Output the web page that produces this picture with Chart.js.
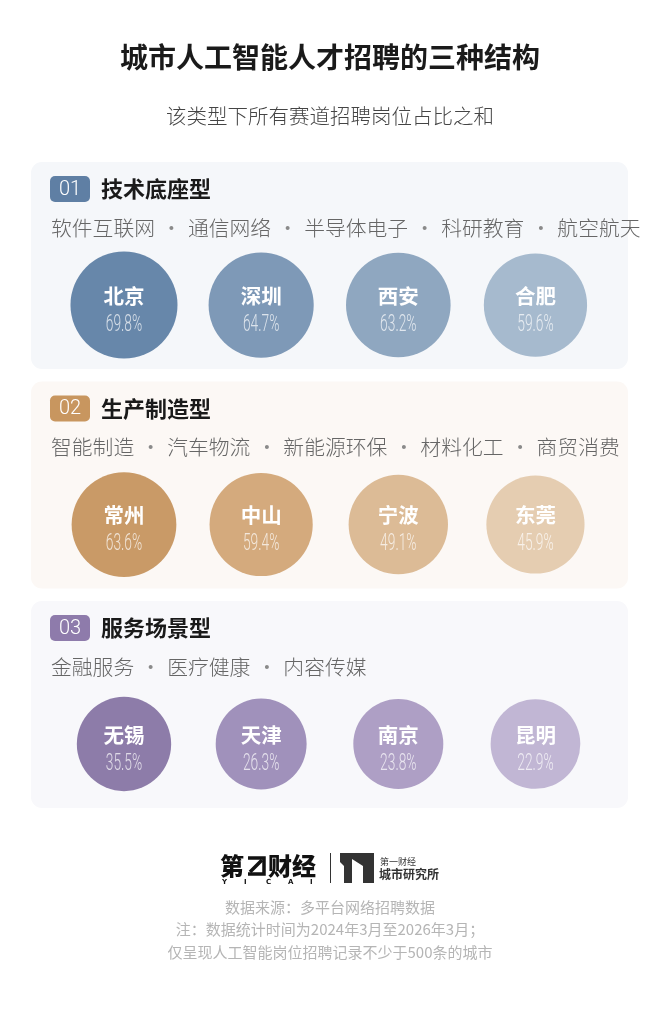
<!DOCTYPE html>
<html lang="zh-CN">
<head>
<meta charset="utf-8">
<title>城市人工智能人才招聘的三种结构</title>
<script src="https://cdn.jsdelivr.net/npm/chart.js@4.4.1/dist/chart.umd.min.js"></script>
<style>
  html,body{margin:0;padding:0;background:#fff;}
  #wrap{width:660px;height:1010px;}
</style>
</head>
<body>
<div id="wrap"><canvas id="chart" width="660" height="1010"></canvas></div>
<script>
/* 城市人工智能人才招聘：三种结构，每种 4 个城市，气泡大小随占比略变 */

const TITLE    = "城市人工智能人才招聘的三种结构";
const SUBTITLE = "该类型下所有赛道招聘岗位占比之和";

const TYPE_NO    = ["01", "02", "03"];
const TYPE_NAMES = ["技术底座型", "生产制造型", "服务场景型"];
const TRACKS = [
  ["软件互联网", "通信网络", "半导体电子", "科研教育", "航空航天"],
  ["智能制造", "汽车物流", "新能源环保", "材料化工", "商贸消费"],
  ["金融服务", "医疗健康", "内容传媒"]
];
const CITIES = [
  ["北京", "深圳", "西安", "合肥"],
  ["常州", "中山", "宁波", "东莞"],
  ["无锡", "天津", "南京", "昆明"]
];
const SHARES = [
  [69.8, 64.7, 63.2, 59.6],
  [63.6, 59.4, 49.1, 45.9],
  [35.5, 26.3, 23.8, 22.9]
];
const NOTES = [
  "数据来源：多平台网络招聘数据",
  "注：数据统计时间为2024年3月至2026年3月；",
  "仅呈现人工智能岗位招聘记录不少于500条的城市"
];

// 样式
const CJK = "'Noto Sans CJK SC','Noto Sans',sans-serif";
const PANEL_BG = ["#f5f7fa", "#fcf8f5", "#f8f8fb"];
const BADGE_BG = ["#5f7fa4", "#c8965f", "#8e7bab"];
const BUBBLE_COL = [
  ["#6787aa", "#7e99b7", "#8fa7c0", "#a6bace"],
  ["#c99a67", "#d4aa7d", "#dcbb96", "#e5cdb1"],
  ["#8d7ca9", "#a091bb", "#ae9fc5", "#c1b6d4"]
];

function roundRect(ctx, x, y, w, h, r){
  ctx.beginPath();
  ctx.moveTo(x+r, y);
  ctx.arcTo(x+w, y, x+w, y+h, r);
  ctx.arcTo(x+w, y+h, x, y+h, r);
  ctx.arcTo(x, y+h, x, y, r);
  ctx.arcTo(x, y, x+w, y, r);
  ctx.closePath();
}

const decorPlugin = {
  id: "decor",
  beforeDatasetsDraw(chart){
    const { ctx, scales } = chart;
    const ys = scales.y;
    ctx.save();
    ctx.textBaseline = "middle";

    // 标题
    ctx.fillStyle = "#1a1a1a"; ctx.textAlign = "center";
    ctx.font = "bold 28px " + CJK;
    ctx.fillText(TITLE, 330, 57);
    ctx.fillStyle = "#444"; ctx.font = "300 20.5px " + CJK;
    ctx.fillText(SUBTITLE, 330, 116);

    TYPE_NAMES.forEach((name, p) => {
      const cy = ys.getPixelForValue(p);
      // 面板
      ctx.fillStyle = PANEL_BG[p];
      roundRect(ctx, 31, cy-143, 597, 207, 11); ctx.fill();
      // 编号徽章
      ctx.fillStyle = BADGE_BG[p];
      roundRect(ctx, 50, cy-129, 40, 26, 5); ctx.fill();
      ctx.fillStyle = "#fff"; ctx.textAlign = "center";
      ctx.font = "300 20px Roboto,sans-serif";
      ctx.fillText(TYPE_NO[p], 70, cy-115.5);
      // 类型名
      ctx.fillStyle = "#1a1a1a"; ctx.textAlign = "left";
      ctx.font = "bold 22px " + CJK;
      ctx.fillText(name, 101, cy-116);
      // 赛道
      ctx.font = "300 20.8px " + CJK;
      let x = 51;
      TRACKS[p].forEach((t, i) => {
        if(i > 0){
          ctx.fillStyle = "#8a8a8a"; ctx.textAlign = "center";
          ctx.fillText("·", x + 16.5, cy-77);
          x += 33;
        }
        ctx.fillStyle = "#666"; ctx.textAlign = "left";
        ctx.fillText(t, x, cy-77);
        x += ctx.measureText(t).width;
      });
    });

    drawFooter(ctx);
    ctx.restore();
  },
  afterDatasetsDraw(chart){
    const { ctx } = chart;
    ctx.save();
    ctx.textAlign = "center"; ctx.textBaseline = "middle";
    chart.data.datasets.forEach((ds, p) => {
      chart.getDatasetMeta(p).data.forEach((el, i) => {
        ctx.fillStyle = "#fff";
        ctx.font = "bold 20.5px " + CJK;
        ctx.fillText(CITIES[p][i], el.x, el.y - 9);
        // 窄体百分比
        ctx.save();
        ctx.translate(el.x, el.y + 20);
        ctx.scale(0.6, 1);
        ctx.fillStyle = "rgba(255,255,255,0.72)";
        ctx.font = "300 23px Roboto,sans-serif";
        ctx.fillText(SHARES[p][i].toFixed(1) + "%", 0, 0);
        ctx.restore();
      });
    });
    ctx.restore();
  }
};

function drawFooter(ctx){
  ctx.save();
  // 第一财经 logo
  ctx.fillStyle = "#111"; ctx.textAlign = "left"; ctx.textBaseline = "alphabetic";
  ctx.font = "900 24px " + CJK;
  ctx.fillText("第", 220, 875);
  ctx.lineWidth = 3.5; ctx.strokeStyle = "#111";
  ctx.beginPath();
  ctx.moveTo(248, 858); ctx.lineTo(264, 858); ctx.lineTo(264, 874); ctx.lineTo(248, 874);
  ctx.stroke();
  ctx.beginPath(); ctx.moveTo(250, 872); ctx.lineTo(262, 860); ctx.stroke();
  ctx.fillText("财经", 268, 875);
  ctx.font = "bold 7px 'DejaVu Sans',sans-serif";
  ["Y","I","C","A","I"].forEach((c, i) => ctx.fillText(c, 222 + i*22, 884));
  // 分隔线
  ctx.fillStyle = "#333"; ctx.fillRect(330, 853, 1, 30);
  // 研究所标志
  ctx.beginPath();
  ctx.moveTo(340, 853); ctx.lineTo(374, 853); ctx.lineTo(374, 883);
  ctx.lineTo(363, 883); ctx.lineTo(363, 866); ctx.lineTo(352, 859);
  ctx.lineTo(352, 883); ctx.lineTo(344, 883); ctx.lineTo(344, 866);
  ctx.lineTo(340, 862); ctx.closePath(); ctx.fill();
  ctx.font = "9px " + CJK; ctx.fillText("第一财经", 380, 865);
  ctx.font = "bold 12px " + CJK; ctx.fillText("城市研究所", 379, 879);
  // 注释
  ctx.fillStyle = "#b5b5b5"; ctx.textAlign = "center"; ctx.textBaseline = "middle";
  ctx.font = "15px " + CJK;
  NOTES.forEach((n, i) => ctx.fillText(n, 330, 907 + i*22.5));
  ctx.restore();
}

const datasets = CITIES.map((row, p) => ({
  label: TYPE_NAMES[p],
  data: row.map((c, i) => ({ x: i, y: p, v: SHARES[p][i] })),
  backgroundColor: BUBBLE_COL[p],
  borderWidth: 0,
  radius: ctx => 40.6 + 0.185 * ctx.raw.v,
  hoverRadius: 0
}));

new Chart(document.getElementById("chart"), {
  type: "bubble",
  data: { datasets },
  options: {
    responsive: false,
    animation: false,
    layout: { padding: 0, autoPadding: false },
    events: [],
    plugins: { legend: { display: false }, tooltip: { enabled: false } },
    scales: {
      x: { type: "linear", min: -0.904, max: 3.908, display: false },
      y: { type: "linear", reverse: true, min: -1.39, max: 3.212, display: false }
    }
  },
  plugins: [decorPlugin]
});
</script>
</body>
</html>
